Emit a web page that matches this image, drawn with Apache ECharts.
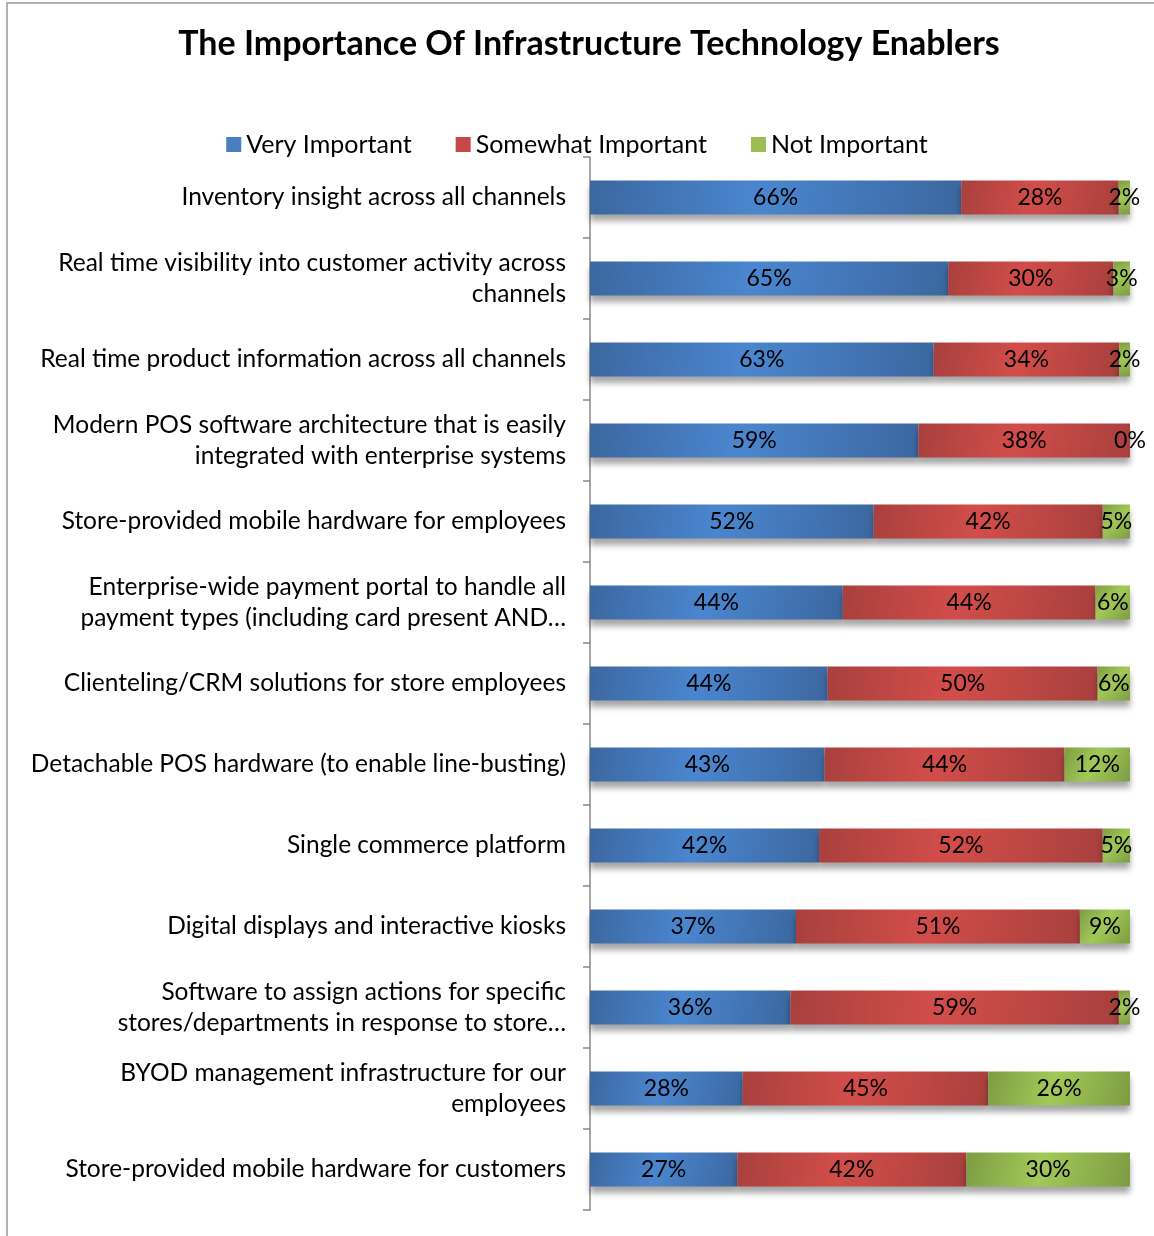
<!DOCTYPE html>
<html>
<head>
<meta charset="utf-8">
<script src="https://cdn.jsdelivr.net/npm/echarts@6/dist/echarts.min.js"></script>
<style>
  html, body { margin: 0; padding: 0; background: #fff; }
  #chart { width: 1154px; height: 1236px; }
</style>
</head>
<body>
<div id="chart"></div>
<script>
// categories, top to bottom
const categories = [
    'Inventory insight across all channels',
    'Real time visibility into customer activity across\nchannels',
    'Real time product information across all channels',
    'Modern POS software architecture that is easily\nintegrated with enterprise systems',
    'Store-provided mobile hardware for employees',
    'Enterprise-wide payment portal to handle all\npayment types (including card present AND…',
    'Clienteling/CRM solutions for store employees',
    'Detachable POS hardware (to enable line-busting)',
    'Single commerce platform',
    'Digital displays and interactive kiosks',
    'Software to assign actions for specific\nstores/departments in response to store…',
    'BYOD management infrastructure for our\nemployees',
    'Store-provided mobile hardware for customers'
];
const veryImportant = [66, 65, 63, 59, 52, 44, 44, 43, 42, 37, 36, 28, 27];
const somewhatImportant = [28, 30, 34, 38, 42, 44, 50, 44, 52, 51, 59, 45, 42];
const notImportant = [2, 3, 2, 0, 5, 6, 6, 12, 5, 9, 2, 26, 30];

const chart = echarts.init(document.getElementById('chart'));
const font = 'Lato, "Open Sans", sans-serif';

// 100% stacked: each row is scaled to its own total
const totals = veryImportant.map((v, i) => v + somewhatImportant[i] + notImportant[i]);

function grad(dark, light) {
    return new echarts.graphic.LinearGradient(0, 0, 1, 1, [
        { offset: 0, color: dark },
        { offset: 0.45, color: light },
        { offset: 1, color: dark }
    ]);
}

function makeSeries(name, raw, dark, light) {
    return {
        name: name,
        type: 'bar',
        stack: 'all',
        barWidth: 34,
        data: raw.map((v, i) => ({ value: v / totals[i] * 100, raw: v })),
        itemStyle: {
            color: grad(dark, light),
            shadowColor: 'rgba(0,0,0,0.35)',
            shadowBlur: 6,
            shadowOffsetY: 6
        },
        label: {
            show: true,
            position: 'inside',
            color: '#000',
            fontSize: 23,
            fontFamily: font,
            formatter: p => p.data.raw + '%'
        }
    };
}

const option = {
    animation: false,
    backgroundColor: '#fff',
    title: {
        text: 'The Importance Of Infrastructure Technology Enablers',
        left: 584,
        textAlign: 'center',
        top: 22,
        textStyle: { fontFamily: font, fontSize: 34, fontWeight: 'bold', color: '#000' }
    },
    legend: {
        top: 127,
        left: 'center',
        itemWidth: 15,
        itemHeight: 15,
        itemGap: 44,
        icon: 'rect',
        textStyle: { fontFamily: font, fontSize: 25, color: '#000' },
        data: [
            { name: 'Very Important', itemStyle: { color: '#4a7ebf' } },
            { name: 'Somewhat Important', itemStyle: { color: '#c44a47' } },
            { name: 'Not Important', itemStyle: { color: '#9bbd52' } }
        ]
    },
    grid: { left: 590, right: 24, top: 157, bottom: 26, containLabel: false },
    xAxis: {
        type: 'value',
        min: 0,
        max: 100,
        show: false
    },
    yAxis: {
        type: 'category',
        inverse: true,
        data: categories,
        axisLine: { show: true, lineStyle: { color: '#888', width: 1.5 } },
        axisTick: { show: true, length: 7, lineStyle: { color: '#888', width: 1.5 } },
        axisLabel: {
            margin: 24,
            fontFamily: font,
            fontSize: 24.5,
            color: '#000',
            lineHeight: 31,
            align: 'right'
        }
    },
    graphic: [{
        type: 'rect',
        shape: { x: 7, y: 3, width: 1300, height: 1400 },
        style: { fill: 'none', stroke: '#999', lineWidth: 1.5 },
        silent: true
    }],
    series: [
        makeSeries('Very Important', veryImportant, '#3c67a0', '#4a86cf'),
        makeSeries('Somewhat Important', somewhatImportant, '#a8403d', '#d24d4a'),
        makeSeries('Not Important', notImportant, '#7d9c43', '#a2c957')
    ]
};

chart.setOption(option);
</script>
</body>
</html>
